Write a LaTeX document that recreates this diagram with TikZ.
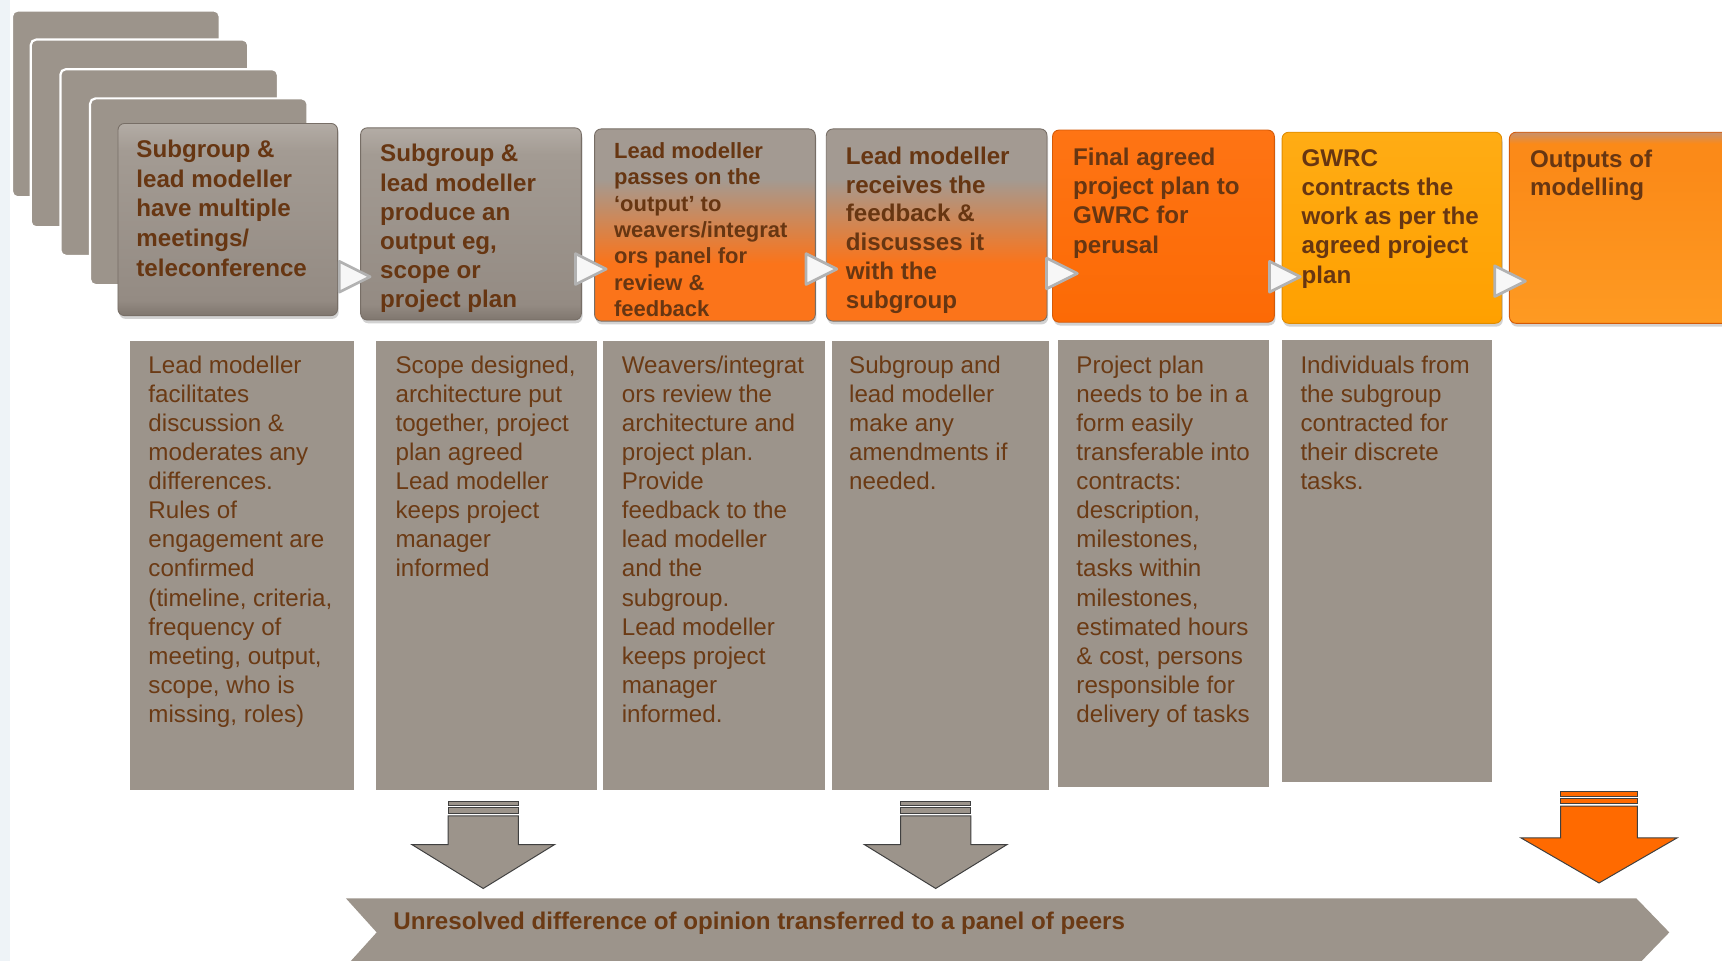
\documentclass[tikz,border=0pt]{standalone}
\usepackage{fontspec}
\setmainfont{Liberation Sans}
\usetikzlibrary{shadows}
\definecolor{tbrown}{HTML}{673612}
\definecolor{lbrown}{HTML}{6B3A14}
\definecolor{gbox}{HTML}{9C948B}
\definecolor{gtop}{HTML}{B3ACA5}
\definecolor{gtopb}{HTML}{A39B93}
\definecolor{gbotb}{HTML}{948B83}
\definecolor{gbot}{HTML}{7F766E}
\definecolor{gline}{HTML}{776E66}
\definecolor{gmid}{HTML}{A39A92}
\definecolor{oone}{HTML}{FB741A}
\definecolor{otwo}{HTML}{FC6A05}
\definecolor{othree}{HTML}{FE7414}
\definecolor{oline}{HTML}{D45A08}
\definecolor{yone}{HTML}{FFA000}
\definecolor{ytwo}{HTML}{FFAC14}
\definecolor{yline}{HTML}{E08C00}
\definecolor{osev}{HTML}{FE9A22}
\definecolor{osevb}{HTML}{FB8A18}
\definecolor{osevt}{HTML}{C8906C}
\definecolor{darkor}{HTML}{FF6A00}
\definecolor{leftblue}{HTML}{EEF3F7}
\pgfdeclareverticalshading{gshade}{100bp}{color(0bp)=(gbot); color(25bp)=(gbot); color(29bp)=(gbotb); color(68bp)=(gtopb); color(75bp)=(gtop); color(100bp)=(gtop)}
\pgfdeclareverticalshading{goshade}{100bp}{color(0bp)=(oone); color(25bp)=(oone); color(40bp)=(oone); color(62bp)=(gmid); color(75bp)=(gmid); color(100bp)=(gmid)}
\pgfdeclareverticalshading{oshade}{100bp}{color(0bp)=(otwo); color(25bp)=(otwo); color(75bp)=(othree); color(100bp)=(othree)}
\pgfdeclareverticalshading{yshade}{100bp}{color(0bp)=(yone); color(25bp)=(yone); color(75bp)=(ytwo); color(100bp)=(ytwo)}
\pgfdeclareverticalshading{sevshade}{100bp}{color(0bp)=(osev); color(25bp)=(osev); color(66bp)=(osevb); color(72bp)=(osevb); color(75bp)=(osevt); color(100bp)=(osevt)}
\begin{document}
\begin{tikzpicture}[x=1pt,y=-1pt,
  tbox/.style={rounded corners=6pt, line width=0.8pt, inner sep=0pt, anchor=north west,
    drop shadow={shadow xshift=1pt,shadow yshift=-3pt,opacity=0.35}},
  card/.style={fill=gbox, draw=white, line width=2pt, rounded corners=5pt, inner sep=0pt, anchor=north west},
  lbox/.style={fill=gbox, draw=none, inner sep=0pt, anchor=north west},
  ttxt/.style={anchor=north west, inner sep=0pt, align=left, text=tbrown, font=\fontsize{22}{27}\selectfont\bfseries},
  ltxt/.style={anchor=north west, inner sep=0pt, align=left, text=lbrown, font=\fontsize{22}{26.5}\selectfont},
  tri/.style={fill=white!94!gray, draw=gray!60, line width=2.5pt, line join=round},
  darrow/.style={fill=gbox, draw=black!75, line width=0.9pt},
  oarrow/.style={fill=darkor, draw=black!75, line width=0.9pt}]
\useasboundingbox (0,0) rectangle (1568,875);
\clip (0,0) rectangle (1568,875);
\fill[white] (0,0) rectangle (1568,875);
\fill[leftblue] (0,0) rectangle (9,875);

% stacked cards
\node[card, minimum width=189pt, minimum height=170pt] (c1) at (10,8.6) {};
\node[card, minimum width=198pt, minimum height=171pt] (c2) at (27,35) {};
\node[card, minimum width=198pt, minimum height=170pt] (c3) at (54,62) {};
\node[card, minimum width=198pt, minimum height=170pt] (c4) at (81,88.6) {};

% top boxes
\node[tbox, shading=gshade, draw=gline, minimum width=200pt, minimum height=175pt] (b1) at (107,112) {};
\node[tbox, shading=gshade, draw=gline, minimum width=201pt, minimum height=175pt] (b2) at (328,116) {};
\node[tbox, shading=goshade, draw=gline, minimum width=201pt, minimum height=175pt] (b3) at (541,117) {};
\node[tbox, shading=goshade, draw=gline, minimum width=201pt, minimum height=175pt] (b4) at (752,117) {};
\node[tbox, shading=oshade, draw=oline, minimum width=202pt, minimum height=175pt] (b5) at (958,118) {};
\node[tbox, shading=yshade, draw=yline, minimum width=200pt, minimum height=174pt] (b6) at (1167,120) {};
\node[tbox, shading=sevshade, draw=oline, minimum width=226pt, minimum height=174pt] (b7) at (1374,120) {};

% top texts
\node[ttxt] (t1) at (124,127.2) {Subgroup \&\\lead modeller\\have multiple\\meetings/\\teleconference};
\node[ttxt, font=\fontsize{22}{26.6}\selectfont\bfseries] (t2) at (346,131.2) {Subgroup \&\\lead modeller\\produce an\\output eg,\\scope or\\project plan};
\node[ttxt, font=\fontsize{20}{24}\selectfont\bfseries] (t3) at (559,129.6) {Lead modeller\\passes on the\\‘output’ to\\weavers/integrat\\ors panel for\\review \&\\feedback};
\node[ttxt, font=\fontsize{22}{26.4}\selectfont\bfseries] (t4) at (770,133.2) {Lead modeller\\receives the\\feedback \&\\discusses it\\with the\\subgroup};
\node[ttxt, font=\fontsize{22}{26.7}\selectfont\bfseries] (t5) at (977,134.2) {Final agreed\\project plan to\\GWRC for\\perusal};
\node[ttxt, font=\fontsize{22}{26.5}\selectfont\bfseries] (t6) at (1185,136.2) {GWRC\\contracts the\\work as per the\\agreed project\\plan};
\node[ttxt, font=\fontsize{22}{26}\selectfont\bfseries] (t7) at (1393,136.2) {Outputs of\\modelling};

% small connector triangles
\draw[tri] (309,238) -- (337,252) -- (309,266) -- cycle;
\draw[tri] (524,231) -- (552,245) -- (524,259) -- cycle;
\draw[tri] (734,231) -- (762,245) -- (734,259) -- cycle;
\draw[tri] (953,235) -- (981,249) -- (953,263) -- cycle;
\draw[tri] (1156,238) -- (1184,252) -- (1156,266) -- cycle;
\draw[tri] (1361,242) -- (1389,256) -- (1361,270) -- cycle;

% lower boxes
\node[lbox, minimum width=204pt, minimum height=409pt] (l1) at (118,310) {};
\node[lbox, minimum width=201pt, minimum height=409pt] (l2) at (342,310) {};
\node[lbox, minimum width=202pt, minimum height=409pt] (l3) at (549,310) {};
\node[lbox, minimum width=198pt, minimum height=409pt] (l4) at (757,310) {};
\node[lbox, minimum width=192pt, minimum height=407pt] (l5) at (963,309) {};
\node[lbox, minimum width=191pt, minimum height=403pt] (l6) at (1167,309) {};

\node[ltxt] (m1) at (135,323.7) {Lead modeller\\facilitates\\discussion \&\\moderates any\\differences.\\Rules of\\engagement are\\confirmed\\(timeline, criteria,\\frequency of\\meeting, output,\\scope, who is\\missing, roles)};
\node[ltxt] (m2) at (360,323.7) {Scope designed,\\architecture put\\together, project\\plan agreed\\Lead modeller\\keeps project\\manager\\informed};
\node[ltxt] (m3) at (566,323.7) {Weavers/integrat\\ors review the\\architecture and\\project plan.\\Provide\\feedback to the\\lead modeller\\and the\\subgroup.\\Lead modeller\\keeps project\\manager\\informed.};
\node[ltxt] (m4) at (773,323.7) {Subgroup and\\lead modeller\\make any\\amendments if\\needed.};
\node[ltxt] (m5) at (980,323.7) {Project plan\\needs to be in a\\form easily\\transferable into\\contracts:\\description,\\milestones,\\tasks within\\milestones,\\estimated hours\\\& cost, persons\\responsible for\\delivery of tasks};
\node[ltxt] (m6) at (1184,323.7) {Individuals from\\the subgroup\\contracted for\\their discrete\\tasks.};

% down arrows
\draw[darrow] (408,743) -- (472,743) -- (472,769) -- (505,769) -- (440,809) -- (375,769) -- (408,769) -- cycle;
\draw[darrow] (408,730) rectangle (472,733);
\draw[darrow] (408,735.5) rectangle (472,741);
\draw[darrow] (820,743) -- (884,743) -- (884,769) -- (917,769) -- (852,809) -- (787,769) -- (820,769) -- cycle;
\draw[darrow] (820,730) rectangle (884,733);
\draw[darrow] (820,735.5) rectangle (884,741);
\draw[oarrow] (1421,734) -- (1491,734) -- (1491,763) -- (1527,763) -- (1456,804) -- (1385,763) -- (1421,763) -- cycle;
\draw[oarrow] (1421,721) rectangle (1491,725);
\draw[oarrow] (1421,727) rectangle (1491,732);

% banner
\fill[gbox] (315,818) -- (1490,818) -- (1520,849) -- (1490,880) -- (315,880) -- (343,849) -- cycle;
\node[ttxt, anchor=base west, text=lbrown] (ban) at (358,846) {Unresolved difference of opinion transferred to a panel of peers};
\end{tikzpicture}
\end{document}
